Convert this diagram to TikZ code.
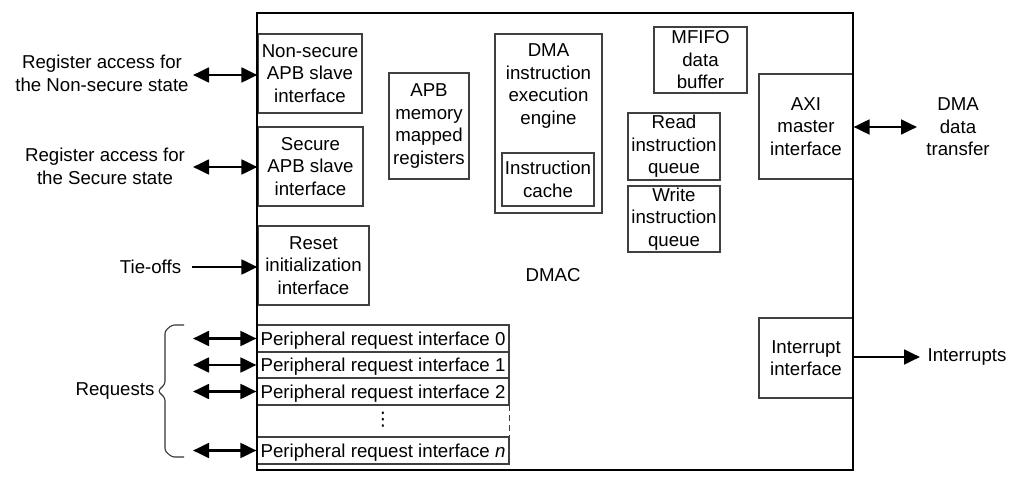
\documentclass[tikz,border=0pt]{standalone}
\usepackage{fontspec}
\setmainfont{Liberation Sans}
\newfontfamily\symfont{DejaVu Sans}
\usetikzlibrary{arrows.meta}
\begin{document}
\begin{tikzpicture}[x=0.75pt,y=-0.75pt,
  every node/.style={font=\fontsize{14}{16.9}\selectfont, align=center},
  box/.style={draw=black!75, line width=0.8pt, inner sep=0pt},
  mainbox/.style={draw=black, line width=2pt, inner sep=0pt},
  sig/.style={line width=2.1pt, -{Triangle[length=12pt,width=11pt]}},
  bisig/.style={line width=2.1pt, {Triangle[length=12pt,width=11pt]}-{Triangle[length=12pt,width=11pt]}},
  bracestyle/.style={draw=black!80, line width=0.8pt},
  prow/.style={box, minimum width=189pt, text depth=0pt},
]
\useasboundingbox (0,0) rectangle (1013,484);

% inner blocks
\node[box, minimum width=78pt, minimum height=59.25pt] (ns) at (310,73.5) {Non-secure\\APB slave\\interface};
\node[box, minimum width=78.75pt, minimum height=59.25pt] (sec) at (310.5,166.5) {Secure\\APB slave\\interface};
\node[box, minimum width=83.25pt, minimum height=59.25pt] (rst) at (313.5,265.5) {Reset\\initialization\\interface};
\node[box, minimum width=60pt, minimum height=79.5pt] (apb) at (429,126) {APB\\memory\\mapped\\registers};
\node[box, minimum width=80.25pt, minimum height=134.25pt] (dma) at (548.5,123.5) {};
\node (dmat) at (548.5,86) {DMA\\instruction\\execution\\engine};
\node[box, minimum width=69pt, minimum height=39.75pt] (icache) at (548,179.5) {Instruction\\cache};
\node[box, minimum width=69.75pt, minimum height=49.5pt] (mfifo) at (700.5,60) {MFIFO\\data\\buffer};
\node[box, minimum width=69pt, minimum height=50.25pt] (rq) at (674,146.5) {Read\\instruction\\queue};
\node[box, minimum width=69pt, minimum height=49.5pt] (wq) at (674,219) {Write\\instruction\\queue};
\node[box, minimum width=70.5pt, minimum height=78.75pt] (axi) at (806,126.5) {AXI\\master\\interface};
\node[box, minimum width=70.5pt, minimum height=60pt] (irq) at (806,358) {Interrupt\\interface};

% peripheral request rows
\node[prow, minimum height=20.25pt] (p0) at (383,338.5) {Peripheral request interface 0};
\node[prow, minimum height=19.5pt] (p1) at (383,365) {Peripheral request interface 1};
\node[prow, minimum height=20.25pt] (p2) at (383,391.5) {Peripheral request interface 2};
\node[inner sep=0pt, minimum width=189pt, minimum height=24pt] (pd) at (383,421) {};
\node[inner sep=0pt] (pdots) at (383,420) {\symfont ⋮};
\node[prow, minimum height=20.25pt] (pn) at (383,450.5) {Peripheral request interface \emph{n}};
\draw[draw=black!75, line width=0.8pt, dash pattern=on 4.5pt off 3pt] (pd.north east) -- (pd.south east);

% main DMAC box
\node[mainbox, minimum width=447pt, minimum height=342.75pt] (dmac) at (555,241.5) {};
\node (dmaclabel) at (553,275) {DMAC};

% external labels
\node (lns) at (102,73.5) {Register access for\\the Non-secure state};
\node (lsec) at (105,166.5) {Register access for\\the Secure state};
\node (ltie) at (150.5,267) {Tie-offs};
\node (lreq) at (115,391) {Requests};
\node (ldma) at (958,127) {DMA\\data\\transfer};
\node (lirq) at (967,357) {Interrupts};

% connector end points
\coordinate (cns) at (193,75);
\coordinate (csec) at (193,167);
\coordinate (ctie) at (192,267);
\coordinate (c0) at (193,338.5);
\coordinate (c1) at (193,365);
\coordinate (c2) at (193,391.5);
\coordinate (cn) at (193,450.5);
\coordinate (caxi) at (917,127);
\coordinate (cirq) at (920,357);

\draw[bisig] (cns) -- (cns -| ns.west);
\draw[bisig] (csec) -- (csec -| sec.west);
\draw[sig] (ctie) -- (ctie -| rst.west);
\draw[bisig] (c0) -- (c0 -| p0.west);
\draw[bisig] (c1) -- (c1 -| p1.west);
\draw[bisig] (c2) -- (c2 -| p2.west);
\draw[bisig] (cn) -- (cn -| pn.west);
\draw[bisig] (caxi -| axi.east) -- (caxi);
\draw[sig] (cirq -| irq.east) -- (cirq);

% brace
\draw[bracestyle, rounded corners=2pt] (184,325) -- (172,325) -- (165,331) -- (165,384) -- (158,391)
  -- (165,398) -- (165,451) -- (172,457) -- (184,457);
\end{tikzpicture}
\end{document}
